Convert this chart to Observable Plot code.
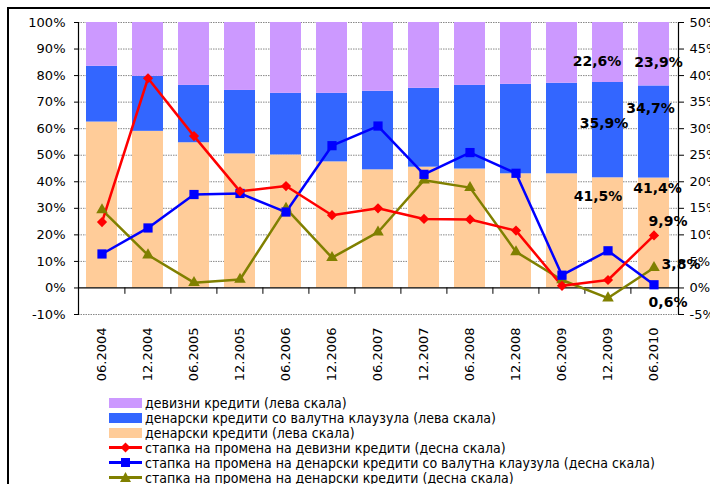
<!DOCTYPE html>
<html>
<head>
<meta charset="utf-8">
<script src="https://cdn.jsdelivr.net/npm/d3@7"></script>
<script src="https://cdn.jsdelivr.net/npm/@observablehq/plot@0.6"></script>
<style>
  html, body { margin: 0; padding: 0; background: #fff; overflow: hidden; width: 710px; height: 484px; }
  body { position: relative; font-family: "DejaVu Sans Condensed", "DejaVu Sans", sans-serif; }
  #frame { position: absolute; left: 7px; top: 7px; width: 800px; height: 600px; border: 2px solid #000; box-sizing: border-box; pointer-events: none; }
  #chart { position: absolute; left: 0; top: 0; }
  #legend { position: absolute; left: 109px; top: 395px; font-size: 14px; color: #000; }
  .row { display: flex; align-items: center; height: 15px; white-space: nowrap; }
  .sw { width: 33px; height: 10px; margin-right: 3px; }
  .row svg { margin-right: 3px; }
</style>
</head>
<body>
<div id="frame"></div>
<div id="chart"></div>
<div id="legend"></div>
<script>
// ---- data ----
const categories = ["06.2004","12.2004","06.2005","12.2005","06.2006","12.2006","06.2007","12.2007","06.2008","12.2008","06.2009","12.2009","06.2010"];
// shares (left scale, %)
const domesticShare = [62.5, 59.0, 54.7, 50.5, 50.1, 47.5, 44.5, 45.5, 44.8, 43.0, 43.0, 41.5, 41.4];
const clauseShare   = [21.0, 20.7, 21.6, 23.9, 23.2, 25.8, 29.6, 29.7, 31.5, 33.7, 34.1, 35.9, 34.7];
const fxShare       = [16.5, 20.3, 23.7, 25.6, 26.7, 26.7, 25.9, 24.8, 23.7, 23.3, 22.9, 22.6, 23.9];
// growth rates (right scale, %)
const fxGrowth       = [12.4, 39.5, 28.6, 18.2, 19.2, 13.7, 15.0, 13.0, 12.9, 10.8, 0.4, 1.5, 9.9];
const clauseGrowth   = [6.4, 11.3, 17.6, 17.8, 14.3, 26.8, 30.5, 21.4, 25.5, 21.6, 2.4, 7.0, 0.6];
const domesticGrowth = [14.7, 6.2, 1.0, 1.6, 15.0, 5.7, 10.5, 20.3, 18.9, 6.8, 1.5, -1.9, 3.8];
const leftTicks = [-10, 0, 10, 20, 30, 40, 50, 60, 70, 80, 90, 100];
const seriesNames = [
  "девизни кредити (лева скала)",
  "денарски кредити со валутна клаузула (лева скала)",
  "денарски кредити (лева скала)",
  "стапка на промена на девизни кредити (десна скала)",
  "стапка на промена на денарски кредити со валутна клаузула (десна скала)",
  "стапка на промена на денарски кредити (десна скала)"
];
const colors = ["#CC99FF", "#3366FF", "#FFCC99", "#FF0000", "#0000FF", "#808000"];

// ---- build tables ----
const bars = [];
categories.forEach((c, i) => {
  bars.push({cat: c, series: seriesNames[2], value: domesticShare[i]});
  bars.push({cat: c, series: seriesNames[1], value: clauseShare[i]});
  bars.push({cat: c, series: seriesNames[0], value: fxShare[i]});
});
const lineData = (arr) => categories.map((c, i) => ({cat: c, value: arr[i]}));
const R = 2; // right scale (-5..50) mapped onto left scale (-10..100)

const font = "DejaVu Sans, sans-serif";
const n = categories.length;
const i12 = n - 2, i13 = n - 1;

function label(cat, yLeft, text, dx, dy) {
  return Plot.text([{cat, y: yLeft, text}], {x: "cat", y: "y", text: "text", dx, dy,
    fontWeight: "bold", fontSize: 14, fill: "#000", fontFamily: "DejaVu Sans, sans-serif"});
}
const mid = (a, b) => (a + b) / 2;
const fmt = v => String(v).replace(".", ",") + "%";

const chart = Plot.plot({
  width: 710, height: 392,
  marginTop: 22, marginBottom: 78, marginLeft: 78, marginRight: 32,
  style: {fontFamily: font, fontSize: "13px", color: "#000", background: "transparent", overflow: "visible"},
  x: {domain: categories, paddingInner: 0.32, paddingOuter: 0.16, label: null},
  y: {domain: [-10, 100], label: null},
  color: {domain: seriesNames.slice(0, 3), range: colors.slice(0, 3)},
  marks: [
    Plot.gridY(leftTicks.filter(t => t !== 0), {stroke: "#888", strokeOpacity: 1, strokeDasharray: "1.5,1", strokeWidth: 1}),
    Plot.barY(bars, {x: "cat", y: "value", fill: "series", order: null}),
    Plot.ruleY([0], {stroke: "#000", strokeWidth: 1.2}),
    Plot.ruleX(categories.slice(1), {x: d => d, y1: 0, y2: -2.4, dx: -23.1, stroke: "#000", strokeWidth: 1}),
    Plot.frame({anchor: "left", stroke: "#000", strokeWidth: 1.2}),
    Plot.frame({anchor: "right", stroke: "#000", strokeWidth: 1.2}),
    Plot.axisY({anchor: "left", ticks: leftTicks, tickFormat: d => d + "%", tickSize: 4, tickPadding: 9, fontSize: 13, label: null}),
    Plot.axisY({anchor: "right", ticks: leftTicks, tickFormat: d => (d / R) + "%", tickSize: 5, tickPadding: 6, fontSize: 13, label: null}),
    Plot.axisX({anchor: "bottom", tickRotate: -90, tickSize: 0, tickPadding: 13, fontSize: 13, label: null}),
    Plot.lineY(lineData(domesticGrowth), {x: "cat", y: d => d.value * R, stroke: colors[5], strokeWidth: 2.5}),
    Plot.lineY(lineData(clauseGrowth), {x: "cat", y: d => d.value * R, stroke: colors[4], strokeWidth: 2.5}),
    Plot.lineY(lineData(fxGrowth), {x: "cat", y: d => d.value * R, stroke: colors[3], strokeWidth: 2.5}),
    Plot.dot(lineData(domesticGrowth), {x: "cat", y: d => d.value * R, symbol: "triangle", r: 4.3, fill: colors[5], stroke: "none"}),
    Plot.dot(lineData(clauseGrowth), {x: "cat", y: d => d.value * R, symbol: "square", r: 5.2, fill: colors[4], stroke: "none"}),
    Plot.dot(lineData(fxGrowth), {x: "cat", y: d => d.value * R, symbol: "diamond2", r: 4.6, fill: colors[3], stroke: "none"}),
    // data labels
    label(categories[i12], mid(domesticShare[i12] + clauseShare[i12], 100), fmt(fxShare[i12]), -11, 9.5),
    label(categories[i13], mid(domesticShare[i13] + clauseShare[i13], 100), fmt(fxShare[i13]), 4.5, 8),
    label(categories[i12], mid(domesticShare[i12], domesticShare[i12] + clauseShare[i12]), fmt(clauseShare[i12]), -4, -7),
    label(categories[i13], mid(domesticShare[i13], domesticShare[i13] + clauseShare[i13]), fmt(clauseShare[i13]), -3.5, -23),
    label(categories[i12], mid(0, domesticShare[i12]), fmt(domesticShare[i12]), -10, -36),
    label(categories[i13], mid(0, domesticShare[i13]), fmt(domesticShare[i13]), 3.5, -44),
    label(categories[i13], fxGrowth[i13] * R, fmt(fxGrowth[i13]), 14, -14),
    label(categories[i13], domesticGrowth[i13] * R, fmt(domesticGrowth[i13]), 27, -3),
    label(categories[i13], clauseGrowth[i13] * R, fmt(clauseGrowth[i13]), 14, 18)
  ]
});
document.getElementById("chart").appendChild(chart);

// ---- legend ----
const legend = document.getElementById("legend");
const symbolsSvg = [
  null, null, null,
  c => `<polygon points="16.5,2.5 21.5,7.5 16.5,12.5 11.5,7.5" fill="${c}"/>`,
  c => `<rect x="12" y="3" width="9" height="9" fill="${c}"/>`,
  c => `<polygon points="16.5,2 22,12 11,12" fill="${c}"/>`
];
seriesNames.forEach((name, i) => {
  const row = document.createElement("div");
  row.className = "row";
  if (i < 3) {
    row.innerHTML = `<div class="sw" style="background:${colors[i]}"></div><span>${name}</span>`;
  } else {
    row.innerHTML = `<svg width="33" height="15"><line x1="0" x2="33" y1="7.5" y2="7.5" stroke="${colors[i]}" stroke-width="3"/>${symbolsSvg[i](colors[i])}</svg><span>${name}</span>`;
  }
  legend.appendChild(row);
});
</script>
</body>
</html>
